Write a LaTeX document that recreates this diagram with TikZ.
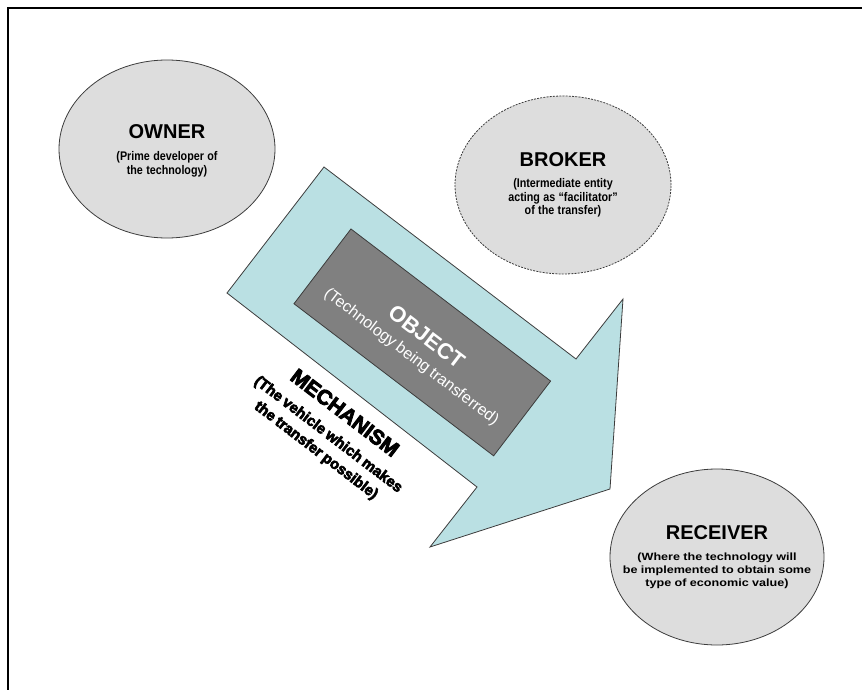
\documentclass[tikz,border=0pt]{standalone}
\usepackage{fontspec}
\setmainfont{Liberation Sans}
\newfontfamily\narrowfont[FakeStretch=0.86]{Liberation Sans Bold}
\newfontfamily\heavyfont[FakeBold=4]{Liberation Sans Bold}
\newfontfamily\widefont[FakeStretch=1.2]{Liberation Sans Bold}
\usetikzlibrary{shapes.geometric}

\definecolor{discfill}{RGB}{221,221,221}
\definecolor{discline}{RGB}{60,60,60}
\definecolor{shaftfill}{RGB}{186,224,227}
\definecolor{objfill}{RGB}{128,128,128}

\begin{document}
\begin{tikzpicture}[x=1pt,y=-1pt,
  disc/.style={ellipse, fill=discfill, draw=discline, line width=0.8pt,
    minimum width=216pt, minimum height=178pt, inner sep=0pt},
  disclabel/.style={text width=214pt, align=center, inner sep=0pt},
  flow/.style={fill=shaftfill, draw=discline, line width=0.8pt, line join=miter},
  payload/.style={rectangle, fill=objfill, draw=discline, line width=0.8pt,
    minimum width=251pt, minimum height=94pt, inner sep=0pt, rotate=-37.3},
  tilted/.style={rotate=-37.3, text width=260pt, align=center, inner sep=0pt}
]
\useasboundingbox (0,0) rectangle (862,690);

% page frame (top and left rules)
\draw[line width=1.6pt, black] (8,690) -- (8,8) -- (862,8);

% the three parties
\node[disc] (owner) at (167,149) {};
\node[disc, dashed, dash pattern=on 2pt off 1.2pt] (broker) at (563,185) {};
\node[disc, minimum width=214pt, minimum height=176pt] (receiver) at (717,557) {};

\node[disclabel] (ownertext) at ([yshift=-2pt]owner.center) {%
  {\bfseries\fontsize{20}{24}\selectfont OWNER\par}
  {\narrowfont\fontsize{12.5}{22}\selectfont (Prime developer of\par}
  {\narrowfont\fontsize{12.5}{13.5}\selectfont the technology)\par}};

\node[disclabel] (brokertext) at (broker.center) {%
  {\bfseries\fontsize{20}{24}\selectfont BROKER\par}
  {\narrowfont\fontsize{12.5}{21}\selectfont (Intermediate entity\par}
  {\narrowfont\fontsize{12.5}{13.5}\selectfont acting as “facilitator”\par of the transfer)\par}};

\node[disclabel] (receivertext) at (receiver.center) {%
  {\bfseries\fontsize{20}{24}\selectfont RECEIVER\par}
  {\widefont\fontsize{10.5}{21}\selectfont (Where the technology will\par}
  {\widefont\fontsize{10.5}{13}\selectfont be implemented to obtain some\par type of economic value)\par}};

% the transfer arrow
\draw[flow] (324,167) -- (576,359) -- (623,299) -- (610,489)
  -- (430,547) -- (477,487) -- (227,293) -- cycle;

% the object carried by the arrow
\node[payload] (object) at (422.3,342.4) {};
\node[tilted, text=white] (objecttext) at (419.1,346.9) {%
  {\bfseries\fontsize{22}{24}\selectfont OBJECT\par}
  {\fontsize{16}{22}\selectfont (Technology being transferred)\par}};

% mechanism caption under the arrow
\node[tilted] (mechtext) at (330.6,431.6) {%
  {\heavyfont\fontsize{21}{24}\selectfont MECHANISM\par}
  {\heavyfont\fontsize{15}{24.5}\selectfont (The vehicle which makes\par}
  {\heavyfont\fontsize{15}{20}\selectfont the transfer possible)\par}};
\end{tikzpicture}
\end{document}
